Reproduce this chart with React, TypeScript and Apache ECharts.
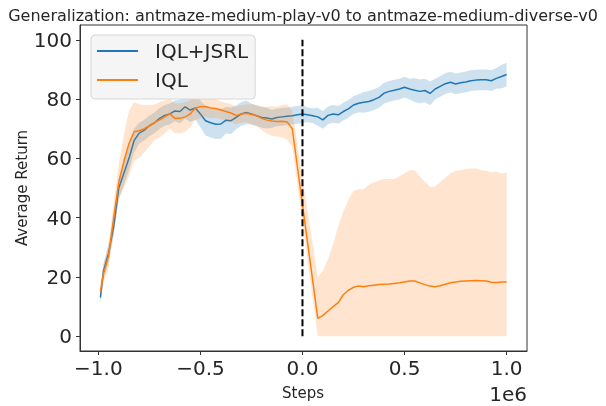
import React, { useEffect, useRef } from "react";
import * as echarts from "echarts";

// Steps in units of 1e6
const stepsM = [
  -0.99, -0.975, -0.95, -0.925, -0.9, -0.875, -0.85, -0.825, -0.8, -0.775,
  -0.75, -0.725, -0.7, -0.675, -0.65, -0.625, -0.6, -0.575, -0.55, -0.525,
  -0.5, -0.475, -0.45, -0.425, -0.4, -0.375, -0.35, -0.325, -0.3, -0.275,
  -0.25, -0.225, -0.2, -0.175, -0.15, -0.125, -0.1, -0.075, -0.05, -0.025,
  0, 0.025, 0.05, 0.075, 0.1, 0.125, 0.15, 0.175, 0.2, 0.225,
  0.25, 0.275, 0.3, 0.325, 0.35, 0.375, 0.4, 0.425, 0.45, 0.475,
  0.5, 0.525, 0.55, 0.575, 0.6, 0.625, 0.65, 0.675, 0.7, 0.725,
  0.75, 0.775, 0.8, 0.825, 0.85, 0.875, 0.9, 0.925, 0.95, 0.975,
  1.0,
];

const jsrlMean = [
  13, 22, 28, 37, 50, 55, 60, 66, 68.5, 69.5,
  71, 72, 73.5, 74.5, 75, 76, 75.8, 77.4, 76.3, 77,
  75, 72.7, 72, 71.5, 71.6, 72.9, 72.7, 73.8, 75, 75.5,
  75, 74.4, 73.8, 73.6, 73.3, 73.8, 74, 74.2, 74.4, 74.7,
  75, 74.7, 74.4, 74, 73, 74.5, 75, 74.7, 75.8, 76.7,
  78, 78.6, 78.9, 79.2, 79.8, 80.6, 82, 82.6, 83, 83.4,
  84, 83.4, 83, 82.6, 82.9, 81.9, 83.4, 84.3, 85.2, 85.7,
  85.1, 85.5, 85.8, 86.2, 86.4, 86.5, 86.5, 86.2, 87, 87.6,
  88.3,
];

const jsrlStd = [
  2, 2.5, 3, 3, 3.5, 4, 4, 4, 3.5, 3.5,
  3.5, 3.5, 3.5, 3.5, 3.5, 3.5, 4, 4, 4, 4,
  4.5, 5, 5, 5, 5, 4.5, 4.5, 4, 4, 4,
  3.5, 3.5, 3.5, 3.5, 3, 3, 3, 3, 3, 3,
  3, 2.5, 2.5, 3, 3, 3, 3, 3, 3, 3,
  3, 3, 3.5, 3.5, 3.5, 3.5, 3.5, 3.5, 3.5, 3.5,
  3.5, 3.5, 4, 4, 4, 4, 3.5, 3.5, 3.5, 3.5,
  3.5, 3.5, 3.5, 3.5, 3.5, 3.5, 3.5, 3.5, 3.5, 4,
  4,
];

const iqlMean: (number | null)[] = [
  15, 21, 27, 40, 52, 59, 65, 69, 69.3, 70,
  71, 72.1, 73, 74, 75, 73.5, 73.5, 74, 75, 77,
  77.4, 77.5, 77, 76.8, 76.3, 75.8, 75.3, 74.4, 75, 75.2,
  74.8, 74.4, 73.5, 72.9, 72.6, 72.4, 72.5, 72.3, 70, null,
  null, null, null, 6, 7, 8.5, 10, 11.3, 14, 15.5,
  16.5, 16.9, 16.7, 17, 17.2, 17.4, 17.5, 17.6, 17.8, 18,
  18.3, 18.6, 18.6, 18, 17.4, 16.9, 16.7, 17, 17.5, 18,
  18.3, 18.5, 18.6, 18.7, 18.8, 18.7, 18.6, 18.2, 18.1, 18.3,
  18.3,
];

const iqlStd: (number | null)[] = [
  3, 3, 4, 5, 6, 9, 11, 10, 9, 8,
  7, 6, 6, 5.5, 5, 5, 5, 5, 4.5, 4,
  4, 3.5, 3.5, 3, 3, 3, 3, 3, 3, 3,
  3.5, 3.5, 4, 4.5, 5, 5, 5.5, 6, 6, null,
  null, null, null, 14, 15, 17.5, 21, 25.7, 28, 30.5,
  32.5, 32.7, 32.9, 34, 34.7, 35.1, 35.5, 35.4, 35.2, 36,
  36.7, 37.4, 37.4, 36, 34.6, 33.5, 33.8, 35, 36, 37,
  37.5, 37.5, 37.8, 37.9, 37.8, 37.3, 37.2, 37, 37.4, 36.7,
  36.9,
];

const xTicks = [-1.0, -0.5, 0.0, 0.5, 1.0];
const yTicks = [0, 20, 40, 60, 80, 100];
const switchStep = 0;
const switchRange = [0, 100];

const FONT = "DejaVu Sans";
const TEXT = "#262626";
const AXIS = "#333333";
const BLUE = "#1f77b4";
const ORANGE = "#ff7f0e";

function fmt(v: number) {
  const s = Math.abs(v).toFixed(1);
  return v < -1e-9 ? "\u2212" + s : s;
}

export default function App() {
  const ref = useRef<HTMLDivElement>(null);

  useEffect(() => {
    document.body.style.margin = "0";
    const chart = echarts.init(ref.current!, null, { renderer: "svg" });

    const jsrlLine = stepsM.map((x, i) => [x, jsrlMean[i]]);
    const jsrlBand = stepsM.map((x, i) => [
      x,
      jsrlMean[i] - jsrlStd[i],
      jsrlMean[i] + jsrlStd[i],
    ]);
    const iqlLine: number[][] = [];
    const iqlBand: number[][] = [];
    stepsM.forEach((x, i) => {
      const m = iqlMean[i];
      const s = iqlStd[i];
      if (m == null || s == null) return;
      iqlLine.push([x, m]);
      iqlBand.push([x, Math.max(0, m - s), m + s]);
    });

    const band = (name: string, data: number[][], fill: string, z: number) => ({
      type: "custom",
      name,
      data,
      silent: true,
      z,
      encode: { x: 0, y: [1, 2] },
      renderItem: (params: any, api: any) => {
        if (params.dataIndex !== 0) return null;
        const top = data.map((d) => api.coord([d[0], d[2]]));
        const bot = data.map((d) => api.coord([d[0], d[1]])).reverse();
        return {
          type: "polygon",
          shape: { points: top.concat(bot) },
          style: { fill, stroke: "none" },
        };
      },
    });

    chart.setOption({
      animation: false,
      textStyle: { fontFamily: FONT },
      title: {
        text: "Generalization: antmaze-medium-play-v0 to antmaze-medium-diverse-v0",
        left: "center",
        top: 2,
        textStyle: { fontSize: 16, fontWeight: "normal", color: TEXT, fontFamily: FONT },
      },
      grid: {
        left: 80,
        right: 79,
        top: 25,
        bottom: 55,
        show: true,
        borderColor: AXIS,
        borderWidth: 1,
        backgroundColor: "transparent",
      },
      legend: {
        left: 91,
        top: 35,
        orient: "vertical",
        icon: "rect",
        itemWidth: 41,
        itemHeight: 2,
        itemGap: 9,
        padding: [6, 7, 9, 6],
        backgroundColor: "#f5f5f5",
        borderColor: "#d6d6d6",
        borderWidth: 1,
        borderRadius: 4,
        textStyle: { fontSize: 20, color: TEXT, fontFamily: FONT, padding: [0, 0, 0, 12] },
        data: [{ name: "IQL+JSRL" }, { name: "IQL" }],
      },
      xAxis: {
        type: "value",
        min: -1.09,
        max: 1.1,
        axisLine: { show: true, onZero: false, lineStyle: { color: AXIS, width: 1 } },
        axisTick: { show: true, length: 4, customValues: xTicks, lineStyle: { color: AXIS } },
        axisLabel: {
          customValues: xTicks,
          formatter: (v: number) => fmt(v),
          fontSize: 20,
          color: TEXT,
          fontFamily: FONT,
          margin: 7,
        },
        splitLine: { show: false },
      },
      yAxis: {
        type: "value",
        min: -5,
        max: 105,
        axisLine: { show: true, onZero: false, lineStyle: { color: AXIS, width: 1 } },
        axisTick: { show: true, length: 4, customValues: yTicks, lineStyle: { color: AXIS } },
        axisLabel: {
          customValues: yTicks,
          fontSize: 20,
          color: TEXT,
          fontFamily: FONT,
          margin: 8,
        },
        splitLine: { show: false },
      },
      graphic: [
        {
          type: "text",
          x: 303,
          y: 393,
          style: {
            text: "Steps",
            fontSize: 15,
            fill: TEXT,
            fontFamily: FONT,
            align: "center",
            verticalAlign: "middle",
          },
        },
        {
          type: "text",
          x: 22,
          y: 188,
          rotation: Math.PI / 2,
          style: {
            text: "Average Return",
            fontSize: 15,
            fill: TEXT,
            fontFamily: FONT,
            align: "center",
            verticalAlign: "middle",
          },
        },
        {
          type: "text",
          right: 79,
          top: 384,
          style: { text: "1e6", fontSize: 20, fill: TEXT, fontFamily: FONT },
        },
      ],
      series: [
        band("IQL+JSRL band", jsrlBand, "rgba(31,119,180,0.22)", 1),
        {
          type: "line",
          name: "IQL+JSRL",
          data: jsrlLine,
          symbol: "none",
          showSymbol: false,
          z: 2,
          lineStyle: { width: 1.5, color: BLUE },
          itemStyle: { color: BLUE },
          color: BLUE,
        },
        band("IQL band", iqlBand, "rgba(255,127,14,0.2)", 3),
        {
          type: "line",
          name: "IQL",
          data: iqlLine,
          symbol: "none",
          showSymbol: false,
          z: 4,
          lineStyle: { width: 1.5, color: ORANGE },
          itemStyle: { color: ORANGE },
          color: ORANGE,
        },
        {
          type: "line",
          name: "switch",
          data: switchRange.map((y) => [switchStep, y]),
          symbol: "none",
          showSymbol: false,
          z: 5,
          lineStyle: { width: 2, color: "#000000", type: [7, 3] },
          itemStyle: { color: "#000000" },
        },
      ],
    });

    return () => chart.dispose();
  }, []);

  return (
    <div
      ref={ref}
      style={{ position: "fixed", left: 0, top: 0, width: 606, height: 406 }}
    />
  );
}
